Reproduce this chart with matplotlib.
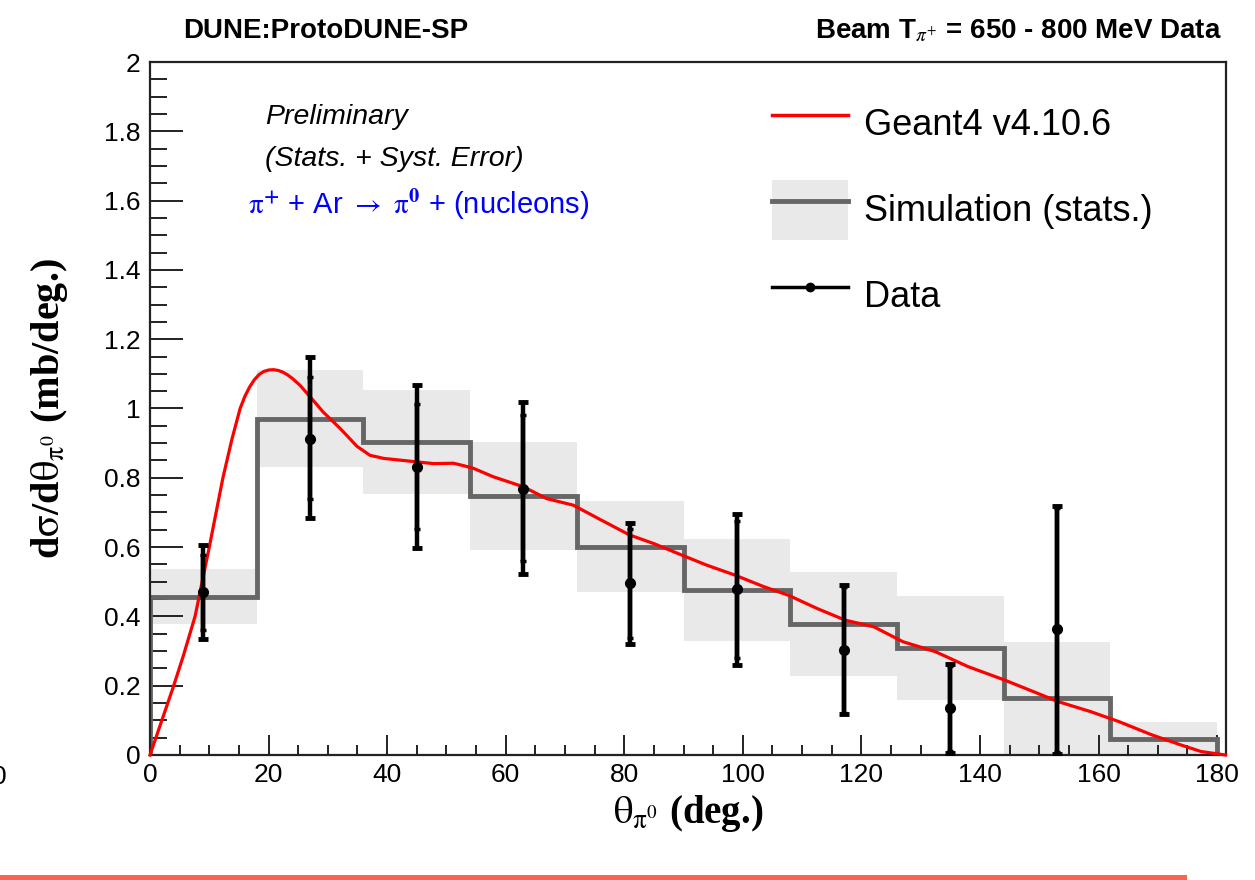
import matplotlib
matplotlib.use("Agg")
import matplotlib.pyplot as plt
from matplotlib.ticker import MultipleLocator, FuncFormatter
from matplotlib.lines import Line2D
from matplotlib.patches import Patch, Rectangle

# ---------------- data ----------------
bin_edges = [0, 18, 36, 54, 72, 90, 108, 126, 144, 162, 180]
bin_centers = [9, 27, 45, 63, 81, 99, 117, 135, 153, 171]
sim_xsec = [0.457, 0.971, 0.904, 0.748, 0.601, 0.476, 0.378, 0.308, 0.164, 0.046]
sim_err = [0.080, 0.139, 0.150, 0.155, 0.132, 0.147, 0.151, 0.150, 0.161, 0.048]

data_theta = [9, 27, 45, 63, 81, 99, 117, 135, 153]
data_xsec = [0.469, 0.913, 0.832, 0.769, 0.495, 0.478, 0.303, 0.135, 0.363]
stat_hi = [0.577, 1.091, 1.014, 0.981, 0.651, 0.676, 0.485, 0.258, 0.714]
stat_lo = [0.362, 0.738, 0.652, 0.560, 0.339, 0.279, 0.122, 0.012, 0.008]
tot_hi = [0.607, 1.149, 1.069, 1.019, 0.670, 0.695, 0.490, 0.262, 0.718]
tot_lo = [0.335, 0.683, 0.598, 0.521, 0.320, 0.260, 0.117, 0.005, 0.004]

g4_theta = [0, 1.7, 3.9, 5.6, 7.6, 10.0, 12.3, 13.8, 15.2, 16.0, 16.8, 17.6,
            18.4, 19.2, 20.0, 20.8, 21.6, 22.4, 23.2, 24.0, 25.3, 27.0, 29.2,
            32.1, 34.9, 37.1, 39.4, 43.3, 47.8, 51.2, 52.9, 54.6, 57.9, 63.0,
            66.9, 71.4, 75.9, 80.9, 85.0, 89.7, 93.9, 98.7, 103.5, 107.7, 112.5,
            117.3, 122.1, 127.0, 132.5, 138.0, 144.2, 149.0, 153.2, 158.7, 163.5,
            169.0, 173.9, 177.3, 181.4]
g4_xsec = [0.0, 0.085, 0.195, 0.285, 0.400, 0.600, 0.800, 0.910, 1.000, 1.035,
           1.062, 1.083, 1.098, 1.107, 1.111, 1.112, 1.110, 1.105, 1.097, 1.087,
           1.067, 1.034, 0.990, 0.942, 0.891, 0.865, 0.856, 0.849, 0.841, 0.842,
           0.835, 0.827, 0.803, 0.774, 0.740, 0.721, 0.680, 0.635, 0.610, 0.577,
           0.548, 0.519, 0.486, 0.461, 0.423, 0.389, 0.370, 0.327, 0.298, 0.255,
           0.216, 0.183, 0.154, 0.125, 0.096, 0.058, 0.029, 0.010, 0.0]

# ---------------- style ----------------
plt.rcParams['font.family'] = ['Liberation Sans', 'DejaVu Sans']
plt.rcParams['mathtext.fontset'] = 'stix'

W, H = 1255, 880
fig = plt.figure(figsize=(W / 100, H / 100), dpi=100)
L, R, T, B = 150, 1226, 62, 755
ax = fig.add_axes([L / W, 1 - B / H, (R - L) / W, (B - T) / H])

band_color = '#e9e9e9'
hist_color = '#666666'

# simulation stat band
bottoms = [v - e for v, e in zip(sim_xsec, sim_err)]
heights = [2 * e for e in sim_err]
ax.bar(bin_centers, heights, bottom=bottoms, width=18, color=band_color,
       linewidth=0, zorder=1)
# simulation histogram
ax.stairs(sim_xsec, bin_edges, baseline=0, color=hist_color, linewidth=3.5,
          zorder=2)
# geant4 curve
ax.plot(g4_theta, g4_xsec, color='#ff0000', linewidth=2.3, zorder=3,
        solid_joinstyle='round', clip_on=False)

# data: total and statistical errors
yerr_tot = [[d - lo for d, lo in zip(data_xsec, tot_lo)],
            [hi - d for d, hi in zip(data_xsec, tot_hi)]]
yerr_stat = [[d - lo for d, lo in zip(data_xsec, stat_lo)],
             [hi - d for d, hi in zip(data_xsec, stat_hi)]]
ax.errorbar(data_theta, data_xsec, yerr=yerr_tot, fmt='none', ecolor='black',
            elinewidth=3.2, capsize=3.5, capthick=3.5, zorder=4)
ax.errorbar(data_theta, data_xsec, yerr=yerr_stat, fmt='o', color='black',
            markersize=7, elinewidth=3.2, capsize=2.5, capthick=2.5, zorder=5)

ax.set_xlim(0, 181.5)
ax.set_ylim(0, 2)

ax.xaxis.set_major_locator(MultipleLocator(20))
ax.xaxis.set_minor_locator(MultipleLocator(5))
ax.yaxis.set_major_locator(MultipleLocator(0.2))
ax.yaxis.set_minor_locator(MultipleLocator(0.05))
ax.xaxis.set_major_formatter(FuncFormatter(lambda v, p: '%g' % round(v, 3)))
ax.yaxis.set_major_formatter(FuncFormatter(lambda v, p: '%g' % round(v, 3)))

ax.tick_params(which='both', direction='in', top=False, right=False,
               width=1.4, color='#222222', labelsize=19)
ax.tick_params(axis='y', which='major', length=24, pad=7)
ax.tick_params(axis='y', which='minor', length=12)
ax.tick_params(axis='x', which='major', length=14.5, pad=6)
ax.tick_params(axis='x', which='minor', length=7)
for s in ax.spines.values():
    s.set_linewidth(1.6)
    s.set_color('#222222')

ax.set_xlabel(r'$\mathrm{\theta}_{\mathrm{\pi}^{0}}$ (deg.)',
              family='Liberation Serif', fontweight='bold', fontsize=28,
              labelpad=4)
ax.set_ylabel(r'd$\mathrm{\sigma}$/d$\mathrm{\theta}_{\mathrm{\pi}^{0}}$ (mb/deg.)',
              family='Liberation Serif', fontweight='bold', fontsize=29,
              labelpad=24)

# header texts
fig.text(183 / W, 1 - 31 / H, 'DUNE:ProtoDUNE-SP', fontsize=20,
         fontweight='bold', ha='left', va='center')
fig.text(1222 / W, 1 - 31 / H, r'Beam T$_{\pi^{+}}$ = 650 - 800 MeV Data',
         fontsize=20, fontweight='bold', ha='right', va='center')

# annotations inside the axes
ax.text((265 - L) / (R - L), (B - 117) / (B - T), 'Preliminary',
        transform=ax.transAxes, fontsize=20.5, style='italic', va='center')
ax.text((265 - L) / (R - L), (B - 159) / (B - T), '(Stats. + Syst. Error)',
        transform=ax.transAxes, fontsize=20.5, style='italic', va='center')
ax.text((248 - L) / (R - L), (B - 205) / (B - T),
        r'$\mathrm{\pi}^{\mathbf{+}}$ + Ar $\rightarrow$ $\mathrm{\pi}^{\mathbf{0}}$ + (nucleons)',
        transform=ax.transAxes, fontsize=21, color='#0000ff', va='center')

# legend
handles = [Line2D([], [], color='#ff0000', linewidth=2.5),
           (Patch(facecolor=band_color, edgecolor='none'),
            Line2D([], [], color=hist_color, linewidth=3.5)),
           Line2D([], [], color='black', linewidth=2.5, marker='o',
                  markersize=6)]
labels = ['Geant4 v4.10.6', 'Simulation (stats.)', 'Data']
ax.legend(handles, labels, loc='upper left',
          bbox_to_anchor=((772 - L) / (R - L), (B - 94) / (B - T)),
          frameon=False, fontsize=26, handlelength=2.1, handleheight=2.17,
          labelspacing=0.73, handletextpad=0.45, borderpad=0, borderaxespad=0)

# cut-off fragment at the left edge and bottom bar
fig.text(7 / W, 1 - 777 / H, '0', fontsize=19, ha='right', va='center')
fig.patches.append(Rectangle((0, 0), 1187 / W, 5 / H, transform=fig.transFigure,
                             facecolor='#fd6450', edgecolor='none'))

fig.savefig('out.png', dpi=100)
